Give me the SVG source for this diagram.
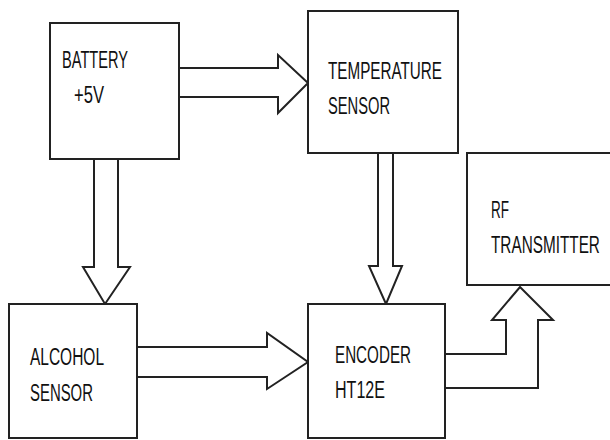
<svg xmlns="http://www.w3.org/2000/svg" width="610" height="440" viewBox="0 0 610 440">
<style>
.box{fill:#fff;stroke:#222;stroke-width:2}
.arr{fill:none;stroke:#222;stroke-width:2;stroke-linejoin:miter}
.t{font-family:"Liberation Sans",Arial,sans-serif;font-size:23.5px;fill:#111}
</style>
<rect width="610" height="440" fill="#fff"/>
<g id="connectors">
<polyline class="arr" points="179,68 278,68 278,55 308,83 278,113 278,97 179,97"/>
<polyline class="arr" points="94,159 94,267 83,267 105,304 130,267 118,267 118,159"/>
<polyline class="arr" points="378,153 378,266 369,266 386,304 402,266 393,266 393,153"/>
<polyline class="arr" points="137,347 267,347 267,333 308,362 267,389 267,377 137,377"/>
<polyline class="arr" points="445,354 506,354 506,320 492,320 520,287 553,320 538,320 538,388 445,388"/>
</g>
<g id="battery">
<rect class="box" x="50" y="23" width="129" height="136"/>
<text class="t" x="62" y="68" textLength="66" lengthAdjust="spacingAndGlyphs">BATTERY</text>
<text class="t" x="74" y="103" textLength="30" lengthAdjust="spacingAndGlyphs">+5V</text>
</g>
<g id="temperature">
<rect class="box" x="308" y="11" width="150" height="142"/>
<text class="t" x="328" y="79" textLength="114" lengthAdjust="spacingAndGlyphs">TEMPERATURE</text>
<text class="t" x="328" y="114" textLength="62" lengthAdjust="spacingAndGlyphs">SENSOR</text>
</g>
<g id="alcohol">
<rect class="box" x="9" y="304" width="128" height="134"/>
<text class="t" x="30" y="365" textLength="74" lengthAdjust="spacingAndGlyphs">ALCOHOL</text>
<text class="t" x="30" y="401" textLength="63" lengthAdjust="spacingAndGlyphs">SENSOR</text>
</g>
<g id="encoder">
<rect class="box" x="308" y="304" width="137" height="134"/>
<text class="t" x="335" y="363" textLength="76" lengthAdjust="spacingAndGlyphs">ENCODER</text>
<text class="t" x="335" y="398" textLength="50" lengthAdjust="spacingAndGlyphs">HT12E</text>
</g>
<g id="rf">
<path d="M610,153 H467 V285 H610" fill="#fff" stroke="#222" stroke-width="2"/>
<text class="t" x="491" y="218" textLength="18" lengthAdjust="spacingAndGlyphs">RF</text>
<text class="t" transform="translate(491,253) scale(0.652,1)" x="0" y="0">TRANSMITTER</text>
</g>
</svg>
